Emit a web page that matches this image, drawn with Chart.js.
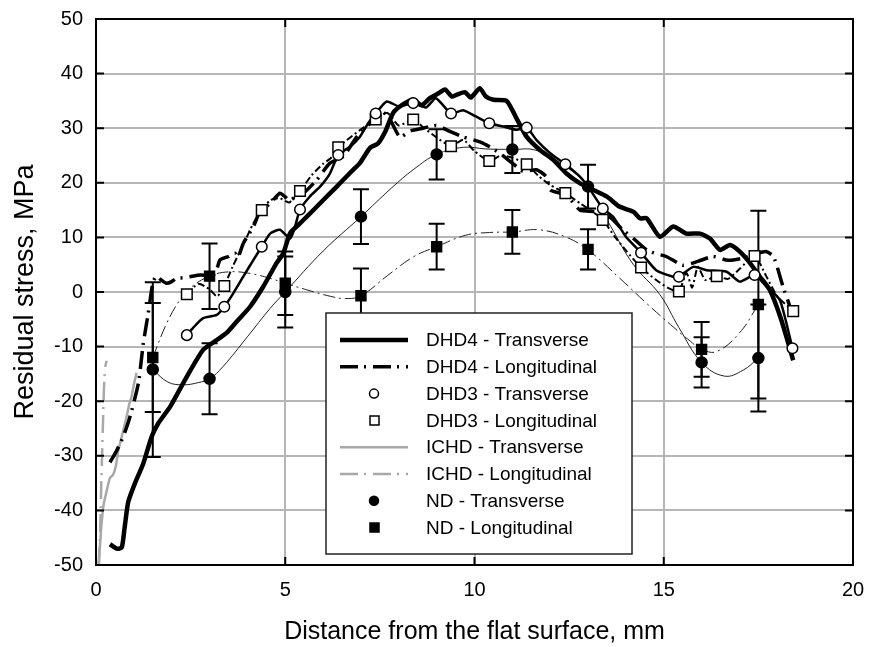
<!DOCTYPE html>
<html lang="en">
<head>
  <meta charset="UTF-8">
  <title>Residual stress profiles</title>
  <script src="https://cdn.jsdelivr.net/npm/chart.js"></script>
  <style>
    html, body { margin: 0; padding: 0; background: #fff; }
    #wrap { width: 869px; height: 647px; }
  </style>
</head>
<body>
  <div id="wrap"><canvas id="chart" width="869" height="647"></canvas></div>
  <script>
    // axis setup
    const xRange = [0, 20];
    const yRange = [-50, 50];
    const xTitle = 'Distance from the flat surface, mm';
    const yTitle = 'Residual stress, MPa';

    // DHD4 - Transverse (thick solid)
    const dhd4TransX = [0.37,0.55,0.68,0.75,0.85,1.03,1.25,1.47,1.65,1.96,2.4,2.83,3.19,3.45,3.72,4.07,4.42,4.77,4.95,5.13,5.35,5.57,6.0,6.36,6.71,6.97,7.24,7.45,7.65,7.85,8.1,8.38,8.6,8.82,9.05,9.22,9.4,9.52,9.75,9.9,10.14,10.3,10.5,10.85,11.11,11.38,11.73,12.08,12.43,12.79,13.14,13.49,13.84,14.2,14.37,14.55,14.9,15.25,15.6,15.96,16.22,16.49,16.75,17.01,17.28,17.54,17.8,18.1,18.42];
    const dhd4TransY = [-46.2,-47,-46.8,-43.5,-38.5,-35,-31.4,-26.5,-24,-21,-15.5,-10.6,-8.8,-7.5,-5.4,-2.7,1,5.3,7.1,10.8,12.3,13.8,16.8,19.3,21.8,23.6,26.4,27.2,29.5,32.8,34.3,35.2,34.2,35.5,36.4,37.1,35.8,36.1,36.6,35.6,37.3,35.8,35.2,35,31.8,28.4,26,24.2,21.7,19.9,18.7,17.5,15.6,14.7,13.5,13.5,10.1,12,10.7,10.7,9.8,7.7,8.6,7.4,5.3,2.8,0.4,-5,-12.5];

    // DHD4 - Longitudinal (thick dash-dot)
    const dhd4LongX = [0.37,0.55,0.72,0.9,1.12,1.25,1.38,1.5,1.6,1.72,1.86,2.0,2.12,2.3,2.48,2.75,3.1,3.2,3.28,3.5,3.67,3.75,3.89,4.16,4.33,4.6,4.86,5.0,5.13,5.3,5.48,5.83,6.18,6.53,6.89,7.24,7.5,7.75,8.03,8.3,8.64,9.0,9.35,9.7,10.14,10.4,10.67,11.0,11.29,11.64,11.9,12.0,12.26,12.5,12.79,13.23,13.6,13.9,14.2,14.55,14.8,15.07,15.5,15.9,16.3,16.7,17.1,17.45,17.7,17.9,18.15,18.35];
    const dhd4LongY = [-31.2,-29,-26.5,-22.8,-16.7,-9.4,-3.9,1.6,3,2.2,1.6,1.9,2.5,2.6,2.8,3.1,3.1,4.4,5.9,6.5,7.1,6.3,8.9,12,14.7,16.2,18.1,17.4,16.8,17.6,18.1,20.5,23.6,24.8,28.4,30.9,33.3,31.8,28.4,29.5,30,30.5,29.4,28.4,27.5,26.6,25.4,23.6,22.1,22.4,21.1,18.7,18.1,17.2,15,14.7,13.6,11.5,9.8,7.7,7.0,6.5,4.9,5.6,6.5,5.8,6.2,7.0,7.4,6.5,1,-3];

    // DHD3 - Transverse (line + open circles)
    const dhd3TransX = [2.4,2.56,2.83,3.19,3.39,3.63,3.89,4.16,4.38,4.6,4.86,5.13,5.26,5.39,5.65,5.92,6.18,6.4,6.71,6.97,7.2,7.39,7.68,8.0,8.38,8.72,8.98,9.38,9.7,10.05,10.39,10.76,11.11,11.38,11.64,12.0,12.4,12.79,13.0,13.39,13.66,14.0,14.4,14.8,15.25,15.4,15.78,16.13,16.66,17.01,17.4,17.72,18.07,18.4];
    const dhd3TransY = [-7.9,-6.6,-4.8,-4.2,-2.7,-0.2,2.8,5.9,8.3,10.7,11.4,9.8,12,15.1,17.5,19.3,21.7,25.1,26.6,28.4,31,32.7,34.9,34,34.6,33.8,35.5,32.7,33.3,32.1,30.9,30.3,29.7,30.1,27.8,25.4,23.4,21.1,19.3,15.3,13.8,10.1,7.2,4,2.8,2.8,4.6,4,3.7,1.9,3.1,1,-1.5,-10.3];
    const dhd3TransMarkX = [2.4,3.39,4.38,5.39,6.4,7.39,8.38,9.38,10.39,11.38,12.4,13.39,14.4,15.4,17.4,18.4];
    const dhd3TransMarkY = [-7.9,-2.7,8.3,15.1,25.1,32.7,34.6,32.7,30.9,30.1,23.4,15.3,7.2,2.8,3.1,-10.3];

    // DHD3 - Longitudinal (line + open squares)
    const dhd3LongX = [2.4,2.7,3.0,3.2,3.39,3.6,3.9,4.15,4.38,4.6,4.85,5.1,5.39,5.7,6.0,6.2,6.4,6.7,7.0,7.39,7.7,8.0,8.38,8.64,9.0,9.38,9.7,10.0,10.39,10.7,11.0,11.38,11.7,12.0,12.4,12.8,13.1,13.39,13.7,14.0,14.4,14.8,15.1,15.4,15.6,15.75,15.9,16.1,16.4,16.7,17.0,17.4,17.7,18.0,18.42];
    const dhd3LongY = [-0.4,1.5,0.5,-0.8,1.1,4.5,8.8,12.5,15,16.8,17.2,16.4,18.5,21.4,23.5,24.5,26.5,28.2,29.8,31.6,32.8,30.5,31.6,30.2,28.3,26.7,27.9,25.8,24,25,24.6,23.4,21.2,19.6,18.1,16.2,14.8,13.2,10.2,7.6,4.5,2.2,0.8,0.1,3.5,0.8,4.6,2.2,2.9,2.4,4.2,6.6,3.0,-0.8,-3.5];
    const dhd3LongMarkX = [2.4,3.39,4.38,5.39,6.4,7.39,8.38,9.38,10.39,11.38,12.4,13.39,14.4,15.4,16.4,17.4,18.42];
    const dhd3LongMarkY = [-0.4,1.1,15,18.5,26.5,31.6,31.6,26.7,24,23.4,18.1,13.2,4.5,0.1,2.9,6.6,-3.5];

    // ICHD (grey, near the surface only)
    const ichdTransX = [0.06,0.1,0.14,0.2,0.28,0.37,0.45,0.52,0.59,0.68,0.75,0.81,0.88,0.94,0.99,1.07];
    const ichdTransY = [-50,-47,-43,-39,-36.5,-34,-33.5,-32,-29,-26.5,-24.5,-22.8,-20.5,-19.2,-17.3,-14.8];
    const ichdLongX = [0.08,0.1,0.12,0.14,0.16,0.18,0.2,0.22,0.25,0.28];
    const ichdLongY = [-50,-46,-41,-35,-30,-25,-20,-16,-13.5,-12.6];

    // ND measurements with error bars
    const ndX = [1.5, 3, 5, 7, 9, 11, 13, 16, 17.5];
    const ndTransY = [-14.2, -15.9, 0, 13.8, 25.2, 26.1, 19.3, -12.9, -12.1];
    const ndTransErr = [16, 6.5, 6.5, 5, 4.6, 4.3, 4, 4.6, 9.8];
    const ndLongY = [-12, 2.9, 1.6, -0.7, 8.3, 11, 7.8, -10.5, -2.3];
    const ndLongErr = [10, 6, 5.8, 5, 4.2, 4, 3.7, 5, 17.2];

    // thin fitted curves through the ND points
    const ndTransFitX = [1.5,1.9,2.3,2.7,3,3.35,4,4.6,5,6,7,7.8,8.4,9,9.7,10.3,11,11.6,12.3,13,13.6,14.2,14.9,15.4,16,16.6,17.1,17.5];
    const ndTransFitY = [-14.2,-16.5,-17,-16.6,-15.9,-13.7,-8.2,-3,0,7.5,13.8,19,22.5,25.2,26.5,26.2,26.1,26,23.5,19.3,12,5,-0.5,-6.5,-12.9,-15.4,-14.3,-12.1];
    const ndLongFitX = [1.5,1.87,2.21,2.48,3,3.52,4.07,4.6,5,5.57,6.2,6.6,7,7.7,8.4,9,9.77,10.4,11,11.7,12.4,13,13.84,14.55,15.25,15.7,16,16.4,17,17.5];
    const ndLongFitY = [-12,-5.7,-1.5,0.7,2.9,3.7,3.4,2.5,1.6,0.4,-0.8,-1.2,-0.7,3,6.5,8.3,10.4,10.9,11,11.4,10.1,7.7,2.5,-2.1,-6.4,-9,-10.5,-10.9,-7.5,-2.3];

    const legendLabels = [
      'DHD4 - Transverse', 'DHD4 - Longitudinal',
      'DHD3 - Transverse', 'DHD3 - Longitudinal',
      'ICHD - Transverse', 'ICHD - Longitudinal',
      'ND - Transverse', 'ND - Longitudinal'
    ];

    const FONT = "'Liberation Sans', Arial, sans-serif";
    const GRID = '#b6b6b6';
    const GREY = '#a8a8a8';
    const DASHDOT = [18, 6, 2, 7];

    const pts = (xs, ys) => xs.map((x, i) => ({ x, y: ys[i] }));

    const lineSet = (xs, ys, opts) => Object.assign({
      data: pts(xs, ys), showLine: true, pointRadius: 0, borderColor: '#000',
      borderWidth: 2, tension: 0.2, fill: false
    }, opts);

    const markSet = (xs, ys, opts) => Object.assign({
      data: pts(xs, ys), showLine: false, borderColor: '#000', borderWidth: 1.5
    }, opts);

    // first dataset is drawn on top
    const datasets = [
      markSet(ndX, ndTransY, { pointStyle: 'circle', pointRadius: 5.5, backgroundColor: '#000' }),
      markSet(ndX, ndLongY, { pointStyle: 'rect', pointRadius: 7, backgroundColor: '#000' }),
      markSet(dhd3TransMarkX, dhd3TransMarkY, { pointStyle: 'circle', pointRadius: 5.3, backgroundColor: '#fff' }),
      markSet(dhd3LongMarkX, dhd3LongMarkY, { pointStyle: 'rect', pointRadius: 7.5, backgroundColor: '#fff' }),
      lineSet(dhd4TransX, dhd4TransY, { borderWidth: 4.5 }),
      lineSet(dhd4LongX, dhd4LongY, { borderWidth: 3.5, borderDash: DASHDOT }),
      lineSet(dhd3TransX, dhd3TransY, { borderWidth: 2.5 }),
      lineSet(dhd3LongX, dhd3LongY, { borderWidth: 2, borderDash: [7, 3, 2, 3] }),
      lineSet(ndTransFitX, ndTransFitY, { borderWidth: 1, borderColor: '#222', tension: 0.4 }),
      lineSet(ndLongFitX, ndLongFitY, { borderWidth: 1, borderColor: '#222', tension: 0.4, borderDash: [12, 4, 2, 4] }),
      lineSet(ichdTransX, ichdTransY, { borderWidth: 2.5, borderColor: GREY }),
      lineSet(ichdLongX, ichdLongY, { borderWidth: 2.5, borderColor: GREY, borderDash: DASHDOT })
    ];

    // legend samples, same order as legendLabels
    const legendStyles = [
      { kind: 'line', width: 4.5, color: '#000' },
      { kind: 'line', width: 3.5, color: '#000', dash: DASHDOT },
      { kind: 'circle', fill: '#fff' },
      { kind: 'square', fill: '#fff' },
      { kind: 'line', width: 2.5, color: GREY },
      { kind: 'line', width: 2.5, color: GREY, dash: DASHDOT },
      { kind: 'circle', fill: '#000' },
      { kind: 'square', fill: '#000' }
    ];

    const extras = {
      id: 'extras',
      beforeDatasetsDraw(chart) {
        const { ctx, scales: { x, y } } = chart;
        ctx.save();
        ctx.strokeStyle = '#000';
        ctx.lineWidth = 2;
        const bars = (ys, errs) => ndX.forEach((v, i) => {
          const px = x.getPixelForValue(v);
          const top = y.getPixelForValue(ys[i] + errs[i]);
          const bot = y.getPixelForValue(ys[i] - errs[i]);
          ctx.beginPath();
          ctx.moveTo(px, top); ctx.lineTo(px, bot);
          ctx.moveTo(px - 8, top); ctx.lineTo(px + 8, top);
          ctx.moveTo(px - 8, bot); ctx.lineTo(px + 8, bot);
          ctx.stroke();
        });
        bars(ndTransY, ndTransErr);
        bars(ndLongY, ndLongErr);
        ctx.restore();
      },
      afterDraw(chart) {
        const { ctx, chartArea: a, scales: { x, y } } = chart;
        ctx.save();
        // frame
        ctx.strokeStyle = '#000';
        ctx.lineWidth = 2;
        ctx.strokeRect(a.left, a.top, a.right - a.left, a.bottom - a.top);
        // inward ticks
        ctx.beginPath();
        y.ticks.forEach(t => {
          const py = y.getPixelForValue(t.value);
          ctx.moveTo(a.left, py); ctx.lineTo(a.left + 8, py);
          ctx.moveTo(a.right, py); ctx.lineTo(a.right - 8, py);
        });
        x.ticks.forEach(t => {
          const px = x.getPixelForValue(t.value);
          ctx.moveTo(px, a.bottom); ctx.lineTo(px, a.bottom - 8);
          ctx.moveTo(px, a.top); ctx.lineTo(px, a.top + 8);
        });
        ctx.stroke();

        // legend box
        const L = 326, T = 313, R = 632, B = 554;
        ctx.fillStyle = '#fff';
        ctx.fillRect(L, T, R - L, B - T);
        ctx.lineWidth = 1.5;
        ctx.strokeStyle = '#222';
        ctx.strokeRect(L, T, R - L, B - T);
        ctx.font = '19px ' + FONT;
        ctx.textBaseline = 'middle';
        ctx.textAlign = 'left';
        legendLabels.forEach((label, i) => {
          const ry = 340 + i * 26.8;
          const s = legendStyles[i];
          ctx.setLineDash([]);
          if (s.kind === 'line') {
            ctx.strokeStyle = s.color;
            ctx.lineWidth = s.width;
            ctx.setLineDash(s.dash || []);
            ctx.beginPath();
            ctx.moveTo(340, ry); ctx.lineTo(408, ry);
            ctx.stroke();
          } else {
            ctx.fillStyle = s.fill;
            ctx.strokeStyle = '#000';
            ctx.lineWidth = 1.5;
            ctx.beginPath();
            if (s.kind === 'circle') ctx.arc(374, ry, 4.5, 0, Math.PI * 2);
            else ctx.rect(370, ry - 4.5, 9, 9);
            ctx.fill();
            ctx.stroke();
          }
          ctx.fillStyle = '#000';
          ctx.fillText(label, 426, ry + 1);
        });
        ctx.restore();
      }
    };

    new Chart(document.getElementById('chart'), {
      type: 'scatter',
      data: { datasets },
      options: {
        responsive: false,
        animation: false,
        devicePixelRatio: 1,
        layout: { padding: { left: 0, right: 16, top: 19, bottom: 0 } },
        plugins: { legend: { display: false }, tooltip: { enabled: false } },
        scales: {
          x: {
            type: 'linear', min: xRange[0], max: xRange[1],
            ticks: { stepSize: 5, color: '#000', padding: 13, maxRotation: 0, font: { family: FONT, size: 20 } },
            grid: { color: GRID, lineWidth: 2, drawTicks: false },
            border: { display: false },
            title: { display: true, text: xTitle, color: '#000', font: { family: FONT, size: 25 }, padding: { top: 0, bottom: 0 } },
            afterFit: s => { s.height = 82; s.paddingLeft = 0; s.paddingRight = 0; }
          },
          y: {
            type: 'linear', min: yRange[0], max: yRange[1],
            ticks: { stepSize: 10, color: '#000', padding: 13, font: { family: FONT, size: 20 } },
            grid: { color: GRID, lineWidth: 2, drawTicks: false },
            border: { display: false },
            title: { display: true, text: yTitle, color: '#000', font: { family: FONT, size: 27 }, padding: { top: 9, bottom: 0 } },
            afterFit: s => { s.width = 96; s.paddingTop = 0; s.paddingBottom = 0; }
          }
        }
      },
      plugins: [extras]
    });
  </script>
</body>
</html>
